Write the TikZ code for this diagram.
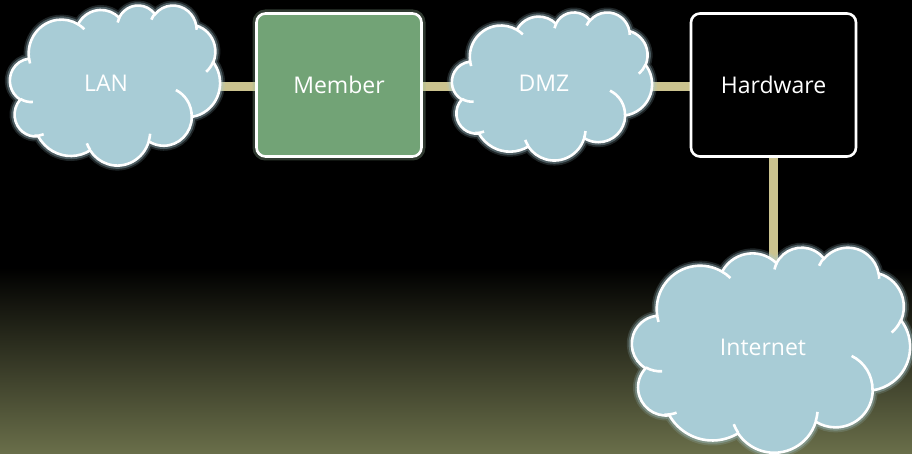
\documentclass[tikz,border=0pt]{standalone}
\usepackage{fontspec}
\newfontfamily\labelfont{Open Sans}
\pgfdeclarelayer{bg}
\pgfdeclarelayer{links}
\pgfsetlayers{bg,links,main}
\definecolor{cloudfill}{HTML}{A8CCD6}
\definecolor{memberfill}{HTML}{72A376}
\definecolor{linkcol}{HTML}{CBC38F}
\definecolor{bgolive}{HTML}{6A6F4A}
\pgfmathdeclarefunction{visang}{3}{\pgfmathparse{atan2((#1)*sin(#3),(#2)*cos(#3))}}
\pgfmathdeclarefunction{visdelta}{4}{\pgfmathparse{(visang(#1,#2,#3+#4)-visang(#1,#2,#3))-360*round((visang(#1,#2,#3+#4)-visang(#1,#2,#3)-(#4))/360)}}
\def\cloudmain{(3.900,14.370)
  foreach \ra/\rb/\sa/\da in {6.753/9.190/-190.4875/123.7805, 5.333/7.267/-144.1024/89.9452,
    4.365/5.945/-145.8079/99.7230, 4.857/6.595/-130.9861/117.2417,
    5.333/7.273/-78.7089/109.0269, 6.775/9.220/-46.2673/130.2690,
    5.785/7.867/0.6250/114.0333, 6.752/9.215/22.4516/115.1726,
    7.720/10.543/66.2426/75.7110, 4.360/5.918/-274.9421/146.7356,
    4.345/5.945/-246.8285/152.5189}
  { arc[x radius=\ra, y radius=\rb, start angle={visang(\ra,\rb,\sa)}, delta angle={visdelta(\ra,\rb,\sa,\da)}] }
  -- cycle}
\def\clouddetail{
  foreach \px/\py/\ra/\rb/\sa/\da in {4.693/26.177/4.345/5.945/86.7420/26.4295,
    6.928/34.899/4.360/5.918/73.6105/19.1436,
    16.478/39.090/6.752/9.215/137.6242/14.0811,
    28.827/34.751/6.752/9.215/6.4533/15.9984,
    34.129/22.954/5.785/7.867/-70.2924/70.9174,
    41.798/15.354/5.333/7.273/30.3180/27.7515,
    38.324/5.426/4.857/6.595/-13.7443/14.8589,
    29.078/3.952/4.857/6.595/-149.1815/18.1954,
    22.141/4.720/4.365/5.945/-163.4943/17.6864,
    14.000/5.192/6.753/9.190/-66.7070/12.3194,
    4.127/15.789/6.753/9.190/157.6544/11.8582}
  { (\px,\py) arc[x radius=\ra, y radius=\rb, start angle={visang(\ra,\rb,\sa)}, delta angle={visdelta(\ra,\rb,\sa,\da)}] }}
\newcommand\drawcloud[4]{%
  \begin{scope}[shift={(#1,#2)}, xscale=#3/43.2, yscale=#4/43.2]
    \draw[cloudglow, line width=10pt, opacity=0.18] \cloudmain;
    \draw[cloudglow, line width=6.5pt, opacity=0.35] \cloudmain;
    \filldraw[cloudshape] \cloudmain;
    \draw[cloudline] \clouddetail;
  \end{scope}}
\tikzset{
  cloudglow/.style={draw=cloudfill},
  cloudshape/.style={fill=cloudfill, draw=white, line width=2.6pt},
  cloudline/.style={draw=white, line width=2.6pt},
  lbl/.style={text=white, font=\labelfont\fontsize{23}{27}\selectfont, inner sep=0pt},
  box/.style={lbl, draw=white, line width=2.6pt, rounded corners=9pt,
    minimum width=165pt, minimum height=143pt},
  link/.style={draw=linkcol, line width=9pt,
    preaction={draw=black, line width=13pt, opacity=0.45}}
}
\begin{document}
\begin{tikzpicture}[x=1pt, y=-1pt]
\useasboundingbox (0,0) rectangle (912,454);
\begin{pgfonlayer}{bg}
  \fill[black] (0,0) rectangle (912,454);
  \shade[top color=black, bottom color=bgolive] (0,268) rectangle (912,454);
\end{pgfonlayer}
% clouds
\drawcloud{10}{5}{210}{160}
\coordinate (lanc) at (115,86.5);
\node[lbl] (lan) at (106,83) {LAN};
\drawcloud{452}{12}{200}{148}
\coordinate (dmzc) at (552,86.5);
\node[lbl] (dmz) at (544,83) {DMZ};
\drawcloud{632}{247}{278}{205}
\coordinate (internetc) at (771,349);
\node[lbl] (internet) at (763,347) {Internet};
% boxes
\node[box, fill=memberfill, preaction={draw=memberfill!70!white, line width=8pt, opacity=0.3}] (member) at (339,85) {Member};
\node[box, fill=black] (hardware) at (773.5,85) {Hardware};
% connectors
\begin{pgfonlayer}{links}
  \draw[link] (lanc) -- (lanc -| member);
  \draw[link] (dmzc -| member) -- (dmzc);
  \draw[link] (dmzc) -- (dmzc -| hardware);
  \draw[link] (hardware) -- (hardware |- internetc);
\end{pgfonlayer}
\end{tikzpicture}
\end{document}
